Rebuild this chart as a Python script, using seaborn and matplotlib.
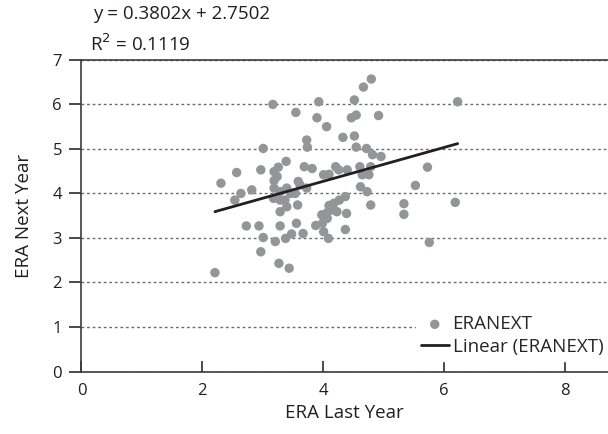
import matplotlib
matplotlib.use("Agg")
import matplotlib.pyplot as plt
import seaborn as sns
import numpy as np
import pandas as pd

# ERA last year vs ERA next year
era_last = [4.80, 4.67, 4.52, 3.93, 3.17, 3.55, 3.90, 4.47, 4.55, 4.92,
            4.06, 3.73, 3.74, 4.33, 4.52, 3.01, 4.55, 4.72, 4.82, 4.96,
            3.39, 3.26, 3.19, 2.97, 2.57, 2.31, 3.69, 3.82, 4.21, 4.10,
            4.40, 4.61, 4.79, 4.65, 4.76, 5.73, 3.19, 3.59, 3.19, 3.29,
            2.82, 2.64, 2.54, 3.73, 3.46, 3.54, 3.18, 3.37, 3.58, 3.40,
            3.29, 4.62, 4.73, 5.53, 4.37, 4.27, 4.18, 4.10, 4.23, 4.07,
            3.98, 4.39, 4.79, 5.34, 5.34, 2.73, 2.94, 3.29, 3.56, 3.88,
            3.99, 4.01, 4.09, 4.37, 3.01, 3.21, 3.38, 3.48, 3.67, 2.97,
            5.76, 3.27, 3.44, 2.21, 6.23, 6.19, 4.07, 4.16, 3.29, 3.40,
            3.62, 3.24, 4.01, 4.26]
era_next = [6.57, 6.39, 6.10, 6.06, 6.00, 5.82, 5.70, 5.70, 5.76, 5.75,
            5.50, 5.20, 5.04, 5.26, 5.29, 5.01, 5.04, 5.01, 4.87, 4.83,
            4.72, 4.59, 4.49, 4.53, 4.47, 4.23, 4.60, 4.56, 4.60, 4.43,
            4.53, 4.60, 4.60, 4.42, 4.42, 4.59, 4.29, 4.27, 4.12, 4.04,
            4.08, 4.00, 3.85, 4.12, 4.00, 4.00, 3.89, 3.85, 3.74, 3.70,
            3.59, 4.15, 4.04, 4.18, 3.93, 3.85, 3.78, 3.73, 3.59, 3.57,
            3.52, 3.55, 3.74, 3.77, 3.53, 3.27, 3.27, 3.27, 3.33, 3.28,
            3.33, 3.14, 2.99, 3.19, 3.01, 2.92, 2.99, 3.09, 3.10, 2.69,
            2.90, 2.43, 2.32, 2.22, 6.06, 3.80, 3.44, 3.63, 3.85, 4.12,
            4.19, 4.38, 4.42, 4.53]

slope = 0.3802
intercept = 2.7502
r_squared = 0.1119

x_ticks = [0, 2, 4, 6, 8]
y_ticks = [0, 1, 2, 3, 4, 5, 6, 7]

sns.set_style("ticks")
plt.rcParams["font.family"] = ["Open Sans", "DejaVu Sans"]

TICK_FS = 12
LABEL_FS = 13.5
EQ_FS = 13.5
TXT = "#231f20"
AXC = "#3b3b3d"

df = pd.DataFrame({"ERA Last Year": era_last, "ERA Next Year": era_next})

fig = plt.figure(figsize=(6.08, 4.34), dpi=100)
ax = fig.add_axes([0.134, 0.144, 0.866, 0.718])

sns.scatterplot(data=df, x="ERA Last Year", y="ERA Next Year", ax=ax,
                color="#939598", s=46, edgecolor="none", label="ERANEXT", zorder=3)

line_x = np.array([min(era_last), max(era_last)])
ax.plot(line_x, slope * line_x + intercept, color=TXT, linewidth=2,
        label="Linear (ERANEXT)", zorder=4)

ax.set_xlim(0, 8.72)
ax.set_ylim(0, 7)
ax.set_xticks(x_ticks)
ax.set_yticks(y_ticks)
ax.grid(False)
ax.yaxis.grid(True, color="#6d6e71", linestyle=(0, (2, 2)), linewidth=1)

ax.tick_params(axis="x", which="major", bottom=True, top=False, direction="in",
               length=8, width=1.3, color=AXC, labelsize=TICK_FS,
               labelcolor=TXT, pad=8)
ax.tick_params(axis="y", which="major", left=True, right=False, direction="out",
               length=9, width=1.3, color=AXC, labelsize=TICK_FS,
               labelcolor=TXT, pad=5)

for side in ["left", "bottom", "top"]:
    ax.spines[side].set_visible(True)
    ax.spines[side].set_color(AXC)
    ax.spines[side].set_linewidth(1.2)
ax.spines["right"].set_visible(False)

ax.set_xlabel("ERA Last Year", fontsize=LABEL_FS, color=TXT, labelpad=4)
ax.set_ylabel("ERA Next Year", fontsize=LABEL_FS, color=TXT, labelpad=14)

leg = ax.legend(loc="lower right", bbox_to_anchor=(1.0, 0.035), frameon=True,
                fontsize=LABEL_FS, handlelength=1.5, handletextpad=0.2,
                borderaxespad=0.0, labelspacing=0.25, borderpad=0.25)
leg.get_frame().set_edgecolor("white")
leg.get_frame().set_facecolor("white")
leg.get_frame().set_alpha(1)
leg.set_zorder(5)

fig.text(0.153, 0.968, f"y = {slope}x + {intercept}", fontsize=EQ_FS,
         color=TXT, va="center", ha="left")
fig.text(0.148, 0.898, f"R$^2$ = {r_squared}", fontsize=EQ_FS,
         color=TXT, va="center", ha="left")

fig.savefig("out.png", dpi=100)
